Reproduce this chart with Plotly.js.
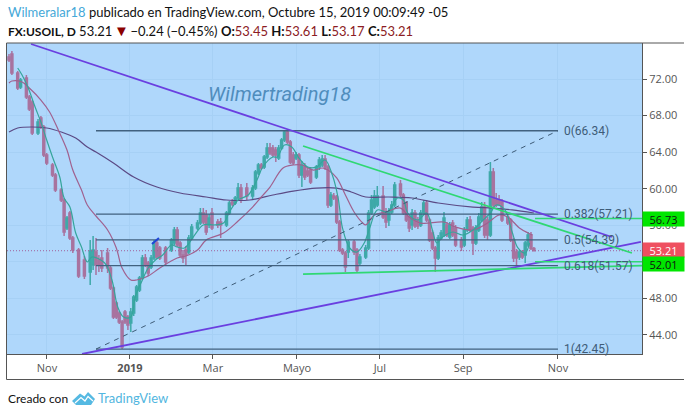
<!DOCTYPE html>
<html><head><meta charset="utf-8">
<script src="https://cdn.plot.ly/plotly-3.0.1.min.js"></script>
<style>html,body{margin:0;padding:0;background:#fff}#c{width:690px;height:416px}</style>
</head><body><div id="c"></div>
<script>
// Candles. Bars are numbered along the time axis.
const bars = [
0,1,3,4,6,7,8,10,11,12,
13,15,16,18,19,20,21,22,24,26,
28,29,30,31,32,34,35,36,37,38,
39,40,41,42,43,44,45,46,47,48,
49,50,51,52,54,56,57,58,59,60,
61,62,63,65,66,67,68,69,70,72,
73,75,76,77,78,79,80,82,84,85,
86,87,88,89,90,91,92,93,94,95,
96,97,98,99,100,101,102,103,104,106,
107,108,109,110,111,112,113,114,115,116,
117,119,120,121,123,124,125,126,127,129,
130,131,132,133,135,136,137,138,139,140,
141,142,143,144,145,146,147,148,149,150,
151,152,153,154,156,157,158,159,160,161,
162,163,164,165,166,167,168,169,170,172,
173,174,175,176,177,178,179,180,181];
const opens = [
74.40,74.73,72.65,71.12,72.11,70.03,69.48,66.09,67.73,66.75,
63.68,62.59,61.49,59.85,58.76,55.70,57.34,54.60,53.29,52.20,
50.88,51.65,53.07,52.20,52.41,52.96,51.32,49.13,47.49,46.40,
45.41,46.51,45.96,45.30,46.40,47.82,48.91,50.23,52.41,51.87,
51.43,52.41,54.06,53.51,53.51,53.29,54.06,55.48,54.06,52.74,
53.29,53.07,54.60,55.70,56.24,57.34,57.12,56.03,57.34,56.35,
56.35,56.03,57.34,58.54,58.43,58.98,60.07,60.07,59.20,60.07,
61.71,62.59,62.37,63.46,64.45,64.45,64.23,63.35,64.45,65.32,
66.20,65.10,63.68,63.35,63.68,61.49,62.37,61.93,62.04,61.28,
62.37,62.59,63.25,62.37,58.21,59.20,59.09,56.35,53.29,52.96,
53.07,54.17,53.29,51.87,52.52,53.51,57.34,57.99,58.21,59.20,
57.45,56.57,57.45,58.21,60.51,59.31,58.43,56.90,56.03,57.34,
56.57,56.03,57.34,58.43,56.57,55.15,53.51,52.41,54.60,54.93,
56.03,54.71,56.24,55.70,54.38,53.84,55.48,56.57,55.70,54.06,
55.48,56.57,57.99,56.57,54.93,61.82,58.76,58.76,58.54,56.90,
56.57,54.38,53.07,52.52,53.07,52.74,53.84,54.93,53.45];
const highs = [
74.73,75.06,72.87,72.11,72.43,70.25,69.70,67.62,67.95,66.97,
63.90,62.81,61.71,60.07,58.98,57.01,57.56,54.82,53.51,52.63,
54.38,54.82,54.60,52.74,53.29,53.51,51.54,49.35,47.71,46.62,
45.63,46.73,46.18,46.95,48.37,49.46,50.45,52.74,52.85,52.09,
52.74,54.38,54.38,53.73,53.73,54.60,55.81,55.81,54.28,53.29,
53.73,54.93,56.13,56.57,57.88,57.88,57.67,57.23,57.88,56.68,
56.79,57.56,58.65,58.87,59.20,60.62,60.51,60.62,60.40,62.04,
62.81,62.81,63.68,64.99,64.99,64.77,64.56,64.77,65.54,66.42,
66.42,65.32,64.01,64.01,63.90,63.03,62.81,62.26,62.37,62.59,
63.46,63.68,63.68,62.59,59.64,59.53,59.31,56.57,53.51,53.18,
54.38,54.38,53.51,52.85,53.84,57.67,59.31,59.85,60.29,60.29,
57.88,57.88,58.65,60.73,60.95,59.53,58.65,57.12,57.77,57.67,
56.90,57.67,58.76,58.76,56.79,55.48,53.73,54.93,55.48,57.45,
56.35,56.35,56.57,56.03,54.71,55.81,56.90,57.01,55.92,56.03,
57.34,58.54,58.54,56.90,62.92,62.26,59.53,59.31,58.87,57.23,
56.79,54.60,53.40,53.29,53.29,54.28,55.26,55.26,53.61];
const lows = [
73.86,72.43,70.79,70.90,69.81,68.50,65.87,65.87,66.53,63.46,
62.59,61.28,59.64,58.54,54.82,55.48,54.38,52.96,50.23,50.12,
49.46,51.10,50.56,50.88,50.88,50.77,48.91,45.74,45.74,45.19,
42.46,45.19,44.54,44.32,46.07,47.60,48.69,50.01,51.43,50.45,
51.21,52.20,52.30,52.20,51.65,53.07,53.84,53.62,52.52,51.87,
51.65,52.85,54.38,55.48,56.03,56.13,54.93,55.70,55.48,55.70,
54.60,55.81,57.12,58.10,58.21,58.76,58.43,58.76,58.87,59.85,
61.49,62.04,62.15,63.25,63.68,63.46,62.92,63.14,64.23,65.10,
64.88,62.70,62.59,63.14,61.17,60.18,60.95,61.28,60.51,61.06,
62.04,62.37,62.04,57.88,57.99,58.76,56.13,53.07,52.74,50.88,
52.41,52.74,50.88,51.65,52.30,53.29,57.12,57.77,57.99,56.68,
55.70,55.92,57.23,57.99,59.09,57.12,56.35,55.26,55.48,55.70,
55.59,55.81,57.12,56.35,54.17,53.29,50.88,52.20,54.38,54.71,
54.71,54.49,54.71,53.62,53.18,53.62,55.26,55.26,52.74,53.84,
55.26,56.35,54.60,54.38,54.71,57.99,57.99,58.10,56.35,56.03,
54.17,51.98,51.65,52.20,52.30,51.87,53.62,53.29,53.17];
const closes = [
74.08,72.65,71.01,71.89,70.03,68.72,66.09,67.29,66.75,63.68,
62.81,61.49,59.85,58.76,55.26,56.79,54.60,53.29,50.45,50.45,
53.18,53.29,51.65,51.65,51.32,51.32,49.13,45.96,45.96,45.41,
42.68,45.41,45.08,46.51,48.15,49.24,50.23,52.41,51.65,50.77,
52.41,54.06,52.52,52.41,51.98,54.38,55.48,53.84,52.74,52.41,
52.74,54.60,55.81,56.24,57.34,56.35,55.26,56.79,55.70,56.03,
56.03,57.34,58.43,58.32,58.98,60.07,58.87,59.20,60.07,61.82,
62.59,62.26,63.46,64.45,63.90,63.68,63.68,64.45,65.32,66.20,
65.10,62.92,62.81,63.68,61.49,62.59,61.28,61.49,60.73,62.37,
63.14,63.25,62.37,58.21,59.31,58.98,56.35,53.29,52.96,51.43,
54.17,53.07,51.10,52.52,53.51,57.34,58.76,59.20,59.20,56.90,
56.35,57.45,58.21,60.40,59.31,57.34,56.57,55.70,57.34,55.92,
55.92,57.34,58.43,56.57,54.38,53.51,52.41,54.60,55.15,56.79,
54.93,56.03,54.93,53.84,53.62,55.48,56.57,55.48,54.06,55.70,
56.90,57.99,54.93,54.93,61.82,58.21,58.21,58.32,56.57,56.24,
54.38,52.41,52.41,53.07,52.52,54.06,54.93,53.45,53.21];

// Moving averages
const fastBars = [3,4.5,6.5,9,11,13,15,17.5,19,21,23,25,27,28.5,33,35.5,37.5,39.5,42,43.5,46,48,50.5,53,56,58,60.5,64,67,71,74,76,79,82.5,85.5,87.5,91,92.5,95,97.5,100,103,106,109,111.5,113.5,115,117.5,120,122.5,124.5,127,130.5,134,136,137.5,141,144,146,147.5,149.5,153,156.5,160,163.5,166,168,171,173.5,175.5,178,179.5];
const fastMA = [73.20,72.43,71.12,68.93,67.29,65.32,63.46,61.28,58.98,57.99,55.15,53.62,51.98,52.52,51.87,50.01,47.05,45.96,45.96,48.15,50.01,51.32,52.20,52.74,53.84,53.62,53.51,54.93,56.03,56.03,56.24,57.45,58.76,59.31,60.95,62.37,63.46,63.46,64.78,64.56,63.35,62.37,62.37,63.14,61.49,58.98,55.70,53.51,53.07,54.06,55.81,57.67,57.45,58.98,58.76,57.34,56.57,57.34,55.48,54.06,54.71,55.26,54.93,55.48,56.57,57.34,58.21,57.67,55.26,53.51,52.96,54.06];
const midBars = [0,1,4.5,7,11,14,17,20,22,25,27,30,34,37,39,42,44,48,52,58,61,65,68,74,79,84,87,90,94.5,98,101,105,108,110,113,116,119,122,123,126,130,135,138,142,150,154,160,165,169,172,176,179,180.5];
const midMA = [71.56,71.78,71.67,71.01,69.70,68.39,66.42,64.23,62.04,59.85,58.21,57.01,55.48,53.51,51.32,50.01,50.01,50.45,51.32,52.41,52.63,53.29,54.38,55.15,56.46,57.99,59.09,60.18,62.26,62.59,62.59,62.04,62.26,62.04,61.17,59.31,57.45,56.24,56.03,57.12,57.45,57.88,56.90,56.24,56.35,55.81,55.48,56.24,57.12,56.90,55.70,55.15,54.93];
const slowBars = [0,3,8,13,18,23,27,30,36,43,51,59,68,75,83,91,98,106,113,118,123,131,139,148,160,167,173.5,181];
const slowMA = [66.20,66.64,66.75,66.64,66.20,65.54,64.56,64.01,62.81,61.28,60.18,59.53,59.09,58.76,58.76,59.31,59.74,60.07,60.07,59.64,59.09,59.09,58.98,58.43,57.99,57.88,57.67,57.34];

// Drawings
const upperTrendBars = [7.6,207.9],   upperTrend = [75.83,54.71];
const lowerTrendBars = [25.2,217.9],  lowerTrend = [41.91,54.17];
const greenTopBars   = [101.4,214.8], greenTop   = [64.67,52.96];
const greenLowBars   = [101.4,218.3], greenLow   = [50.66,51.59];
const blueBars       = [49.3,51.7],   blueSeg    = [53.95,54.60];
const rayBars = [181.4,218.3];
const ray1 = [56.73,56.73], ray2 = [52.01,52.01];
const fibBars = [30,189.3];
const fibStart = 42.45, fibEnd = 66.34;
const fibLevels = [66.34,57.21,54.39,51.57,42.45];
const fibLabels = ['0(66.34)','0.382(57.21)','0.5(54.39)','0.618(51.57)','1(42.45)'];
const lastPrice = 53.21;

// Axes
const tickBars = [13.1,41.7,70.3,99.3,127.9,156.6,189.3];
const tickLabels = ['Nov','<b>2019</b>','Mar','Mayo','Jul','Sep','Nov'];
const xRange = [-0.69,218.28], yRange = [41.91,75.94];

const W=690,H=416,L=7,R=48,T=43,B=62;
const PW=W-L-R, PH=H-T-B;
const px=x=>(x-L)/PW, py=y=>1-(y-T)/PH;
const path=pts=>pts.map((p,i)=>(i?'L':'M')+px(p[0]).toFixed(4)+' '+py(p[1]).toFixed(4)).join(' ')+' ';

const line=(x,y,color,width,extra)=>Object.assign({type:'scatter',mode:'lines',x,y,hoverinfo:'skip',showlegend:false,
  line:Object.assign({color,width},extra||{})});

const traces=[
 line(xRange,[lastPrice,lastPrice],'#a0609a',1,{dash:'1px 2px'}),
 line(slowBars,slowMA,'#5b4a85',1.2,{shape:'spline'}),
 line(midBars,midMA,'#a0618f',1.2,{shape:'spline'}),
 {type:'candlestick',x:bars,open:opens,high:highs,low:lows,close:closes,whiskerwidth:0,showlegend:false,hoverinfo:'skip',
  increasing:{line:{color:'#3fa9a9',width:1.5},fillcolor:'#3fa9a9'},
  decreasing:{line:{color:'#a8739f',width:1.5},fillcolor:'#a8739f'}},
 line(fastBars,fastMA,'#35a59b',1.2,{shape:'spline'}),
];
fibLevels.forEach(v=>traces.push(line(fibBars,[v,v],'#41617f',1.3)));
traces.push(line(fibBars,[fibStart,fibEnd],'#3e5c78',1,{dash:'5px 5px'}));
traces.push(line(upperTrendBars,upperTrend,'#6a3fe0',1.8));
traces.push(line(lowerTrendBars,lowerTrend,'#6a3fe0',1.8));
traces.push(line(greenTopBars,greenTop,'#2fd873',1.8));
traces.push(line(greenLowBars,greenLow,'#2fd873',1.8));
traces.push(line(rayBars,ray1,'#2fd873',1.5));
traces.push(line(rayBars,ray2,'#2fd873',1.5));
traces.push(line(blueBars,blueSeg,'#1f45d8',2));

const hdr='Lato,"Open Sans",sans-serif';
const axisFont='"Open Sans",sans-serif';
const red='#8c1c24';
const annotations=[
 {xref:'paper',yref:'paper',x:px(6),y:py(12),xanchor:'left',yanchor:'middle',showarrow:false,align:'left',
  font:{family:hdr,size:13,color:'#111'},
  text:'<span style="color:#45a8d8">Wilmeralar18</span> publicado en TradingView.com, Octubre 15, 2019 00:09:49 -05'},
 {xref:'paper',yref:'paper',x:px(6),y:py(30),xanchor:'left',yanchor:'middle',showarrow:false,align:'left',
  font:{family:hdr,size:13,color:'#111'},
  text:'<b style="font-size:12px">FX:USOIL, D</b> 53.21\u2009<span style="color:#8b0000;font-size:15px">▼</span>\u2009−0.24 (−0.45%) <b>O:</b><span style="color:'+red+'">53.45</span> <b>H:</b><span style="color:'+red+'">53.61</span> <b>L:</b><span style="color:'+red+'">53.17</span> <b>C:</b><span style="color:'+red+'">53.21</span>'},
 {xref:'paper',yref:'paper',x:px(206),y:py(94),xanchor:'left',yanchor:'middle',showarrow:false,
  font:{family:'Roboto,sans-serif',size:20,color:'#4f8dbd'},text:'<i>Wilmertrading18</i>'},
 {xref:'paper',yref:'paper',x:px(6),y:py(398),xanchor:'left',yanchor:'middle',showarrow:false,
  font:{family:hdr,size:12,color:'#111'},text:'Creado con'},
 {xref:'paper',yref:'paper',x:px(96),y:py(398),xanchor:'left',yanchor:'middle',showarrow:false,
  font:{family:hdr,size:13,color:'#52b6e0'},text:'TradingView'},
];
fibLevels.forEach((v,i)=>annotations.push({x:190.7,y:v,xanchor:'left',yanchor:'middle',showarrow:false,
  font:{family:'Roboto,sans-serif',size:12,color:'#3e5c78'},text:fibLabels[i]}));
[[lastPrice,'#ef5060','#fff',0.7],[56.73,'#00e600','#111',0],[52.01,'#00e600','#111',-2.3]].forEach(a=>annotations.push({
  xref:'paper',x:1,y:a[0],yshift:a[3],xanchor:'left',yanchor:'middle',showarrow:false,width:41,height:14,borderpad:0,
  bgcolor:a[1],font:{family:axisFont,size:11,color:a[2]},text:a[0].toFixed(2)}));

const frame=(x0,y0,x1,y1)=>({type:'line',xref:'paper',yref:'paper',x0:px(x0),y0:py(y0),x1:px(x1),y1:py(y1),layer:'above',line:{color:'#555',width:1}});
const shapes=[
 frame(6.5,43,684,43),frame(6.5,43,6.5,379.5),frame(6.5,379.5,684,379.5),
 {type:'path',xref:'paper',yref:'paper',layer:'above',fillcolor:'#55b9e2',line:{width:0},
  path:path([[72,401],[80,393.5],[84.5,396.5],[88,392],[95,399],[91,405],[76,405]])+'Z'},
 {type:'path',xref:'paper',yref:'paper',layer:'above',line:{color:'#fff',width:1.2},
  path:path([[75,403],[81,397.5],[85,401],[88,396.5],[93,401]])},
];

Plotly.newPlot('c',traces,{
 width:W,height:H,margin:{l:L,r:R,t:T,b:B,pad:0},
 paper_bgcolor:'#fff',plot_bgcolor:'#afd7fb',showlegend:false,hovermode:false,dragmode:false,
 boxgap:0.02,
 font:{family:axisFont,color:'#555',size:11},
 xaxis:{type:'linear',range:xRange,tickmode:'array',tickvals:tickBars,ticktext:tickLabels,ticks:'outside',ticklen:4,tickcolor:'#555',
  showgrid:true,gridcolor:'#a6d0f5',zeroline:false,showline:true,linecolor:'#555',linewidth:1,
  rangeslider:{visible:false},fixedrange:true,tickfont:{family:axisFont,size:11,color:'#555'}},
 yaxis:{side:'right',range:yRange,tick0:44,dtick:4,tickformat:'.2f',ticks:'outside',ticklen:4,tickcolor:'#555',
  showgrid:true,gridcolor:'#a6d0f5',zeroline:false,showline:true,linecolor:'#555',linewidth:1,
  fixedrange:true,tickfont:{family:axisFont,size:11,color:'#555'}},
 annotations,shapes
},{displayModeBar:false,staticPlot:true});
</script></body></html>
